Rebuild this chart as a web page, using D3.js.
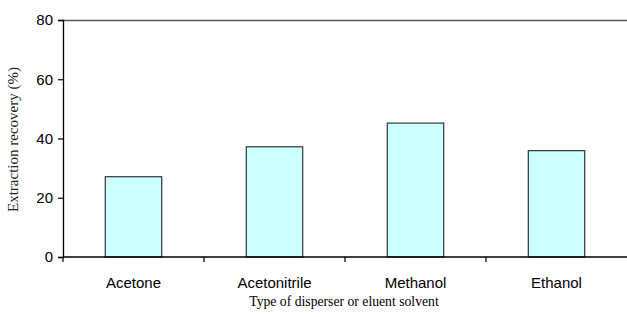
<!DOCTYPE html>
<html>
<head>
    <meta charset="utf-8" />
    <title>Extraction recovery</title>
    <style>
        body {
            margin: 0;
            background: #fff;
        }

        .tick-label {
            font-family: 'Liberation Sans', Arial, sans-serif;
            font-size: 15px;
            fill: #000;
        }

        .axis-title {
            font-family: 'Liberation Serif', 'Times New Roman', serif;
            font-size: 13.7px;
            fill: #000;
            text-anchor: middle;
        }

        .y-title {
            font-size: 15px;
            fill: #222;
        }

        .bar {
            fill: #ccffff;
            stroke: #333;
            stroke-width: 1.2;
        }
    </style>
</head>
<body>
    <script src="https://d3js.org/d3.v7.min.js"></script>
    <script>
        // data
        let solvents = ['Acetone', 'Acetonitrile', 'Methanol', 'Ethanol']
        let recovery = [27.1, 37.2, 45.2, 35.9]
        let yTicks = [0, 20, 40, 60, 80]

        let margin = { top: 20, right: 0, bottom: 60, left: 63 },
            width = 627 - margin.left - margin.right,
            height = 317 - margin.top - margin.bottom

        let svg = d3.select('body')
                    .append('svg')
                    .attr('width', 627)
                    .attr('height', 317)
                        .append('g')
                        .attr('transform', `translate(${margin.left}, ${margin.top})`)

        let x = d3.scaleBand()
                    .domain(solvents)
                    .range([0, width])
                    .paddingInner(0.6)
                    .paddingOuter(0.3)

        let y = d3.scaleLinear()
                    .domain([0, 80])
                    .range([height, 0])

        // top border of plot area
        svg.append('line')
            .attr('x1', 0)
            .attr('x2', width)
            .attr('y1', 0.5)
            .attr('y2', 0.5)
            .attr('stroke', '#555')
            .attr('stroke-width', 1.5)

        svg.append('g')
            .selectAll('rect')
            .data(recovery)
            .enter()
                .append('rect')
                .classed('bar', true)
                .attr('x', function (d, i) { return x(solvents[i]) })
                .attr('y', function (d) { return y(d) })
                .attr('width', x.bandwidth())
                .attr('height', function (d) { return height - y(d) })

        // y axis
        let yAxis = svg.append('g')
            .call(d3.axisLeft(y).tickValues(yTicks).tickSize(5).tickPadding(5))
        yAxis.select('.domain').attr('stroke', '#000').attr('stroke-width', 1.3)
        yAxis.selectAll('.tick line').attr('stroke', '#000').attr('stroke-width', 1.2)
        yAxis.selectAll('.tick text').attr('class', 'tick-label').attr('font-size', null).attr('font-family', null)

        // x axis, ticks between categories
        let step = width / solvents.length
        let xAxis = svg.append('g')
            .attr('transform', `translate(0, ${height})`)

        xAxis.append('line')
            .attr('x1', 0)
            .attr('x2', width)
            .attr('stroke', '#000')
            .attr('stroke-width', 1.6)

        xAxis.selectAll('line.sep')
            .data(d3.range(solvents.length))
            .enter()
                .append('line')
                .attr('class', 'sep')
                .attr('x1', function (d) { return d * step })
                .attr('x2', function (d) { return d * step })
                .attr('y1', 0)
                .attr('y2', 5)
                .attr('stroke', '#000')
                .attr('stroke-width', 1.2)

        xAxis.selectAll('text')
            .data(solvents)
            .enter()
                .append('text')
                .classed('tick-label', true)
                .attr('text-anchor', 'middle')
                .attr('x', function (d) { return x(d) + x.bandwidth() / 2 })
                .attr('y', 31)
                .text(function (d) { return d })

        svg.append('text')
            .classed('axis-title', true)
            .attr('x', 281)
            .attr('y', height + 49)
            .text('Type of disperser or eluent solvent')

        svg.append('text')
            .classed('axis-title', true)
            .classed('y-title', true)
            .attr('transform', `translate(-45, ${height / 2 + 1}) rotate(-90)`)
            .text('Extraction recovery (%)')
    </script>
</body>
</html>
